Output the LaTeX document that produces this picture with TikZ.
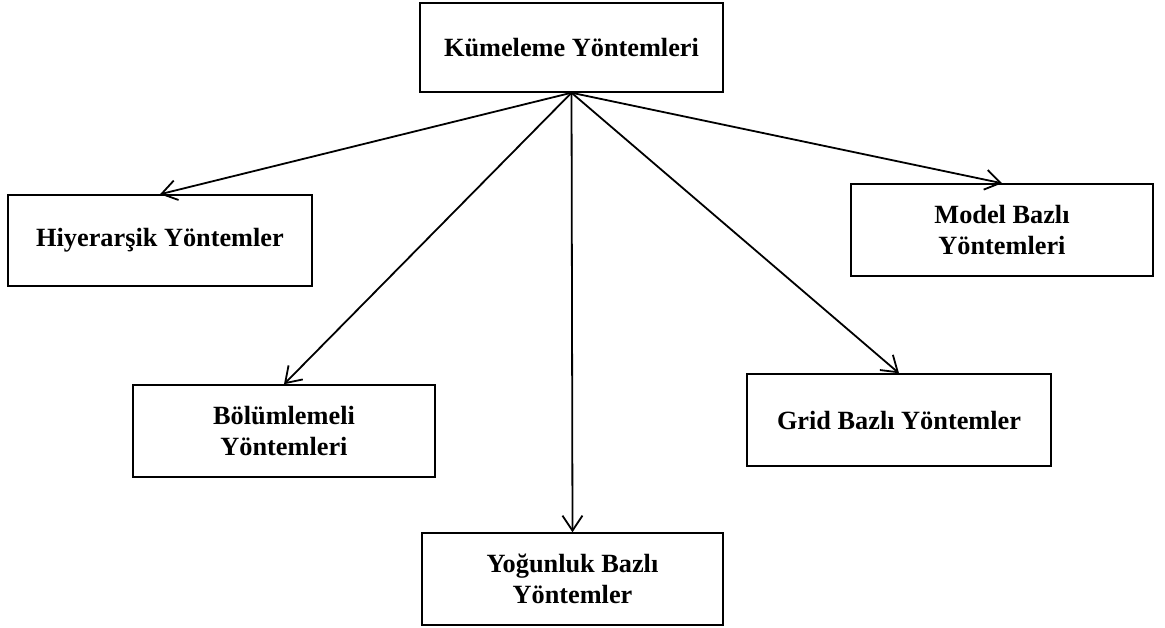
\documentclass[tikz,border=0pt]{standalone}
\usepackage{fontspec}
\setmainfont{Liberation Serif}
\usetikzlibrary{arrows.meta}
\tikzset{
  box/.style={draw=black, line width=1.5pt, rectangle, align=center, inner sep=0pt,
    font=\fontsize{26.3}{31}\selectfont\bfseries},
  conn/.style={draw=black, line width=1.8pt, -{Straight Barb[length=15pt,width=20pt,line width=1.8pt]}}
}
\begin{document}
\begin{tikzpicture}[x=1pt,y=-1pt]
\useasboundingbox (0,0) rectangle (1165,627);
\node[box, minimum width=303pt, minimum height=89pt] (top) at (571.5,47.5) {Kümeleme Yöntemleri};
\node[box, minimum width=304pt, minimum height=91pt] (hiy) at (160,240.5) {Hiyerarşik Yöntemler};
\node[box, minimum width=302pt, minimum height=92pt] (mod) at (1002,230) {Model Bazlı\\Yöntemleri};
\node[box, minimum width=302pt, minimum height=92pt] (bol) at (284,431) {Bölümlemeli\\Yöntemleri};
\node[box, minimum width=304pt, minimum height=92pt] (grid) at (899,420) {Grid Bazlı Yöntemler};
\node[box, minimum width=301pt, minimum height=92pt] (yog) at (572.5,579) {Yoğunluk Bazlı\\Yöntemler};
\draw[conn] (top.south) -- (hiy.north);
\draw[conn] (top.south) -- (mod.north);
\draw[conn] (top.south) -- (bol.north);
\draw[conn] (top.south) -- (grid.north);
\draw[conn] (top.south) -- (yog.north);
\end{tikzpicture}
\end{document}
